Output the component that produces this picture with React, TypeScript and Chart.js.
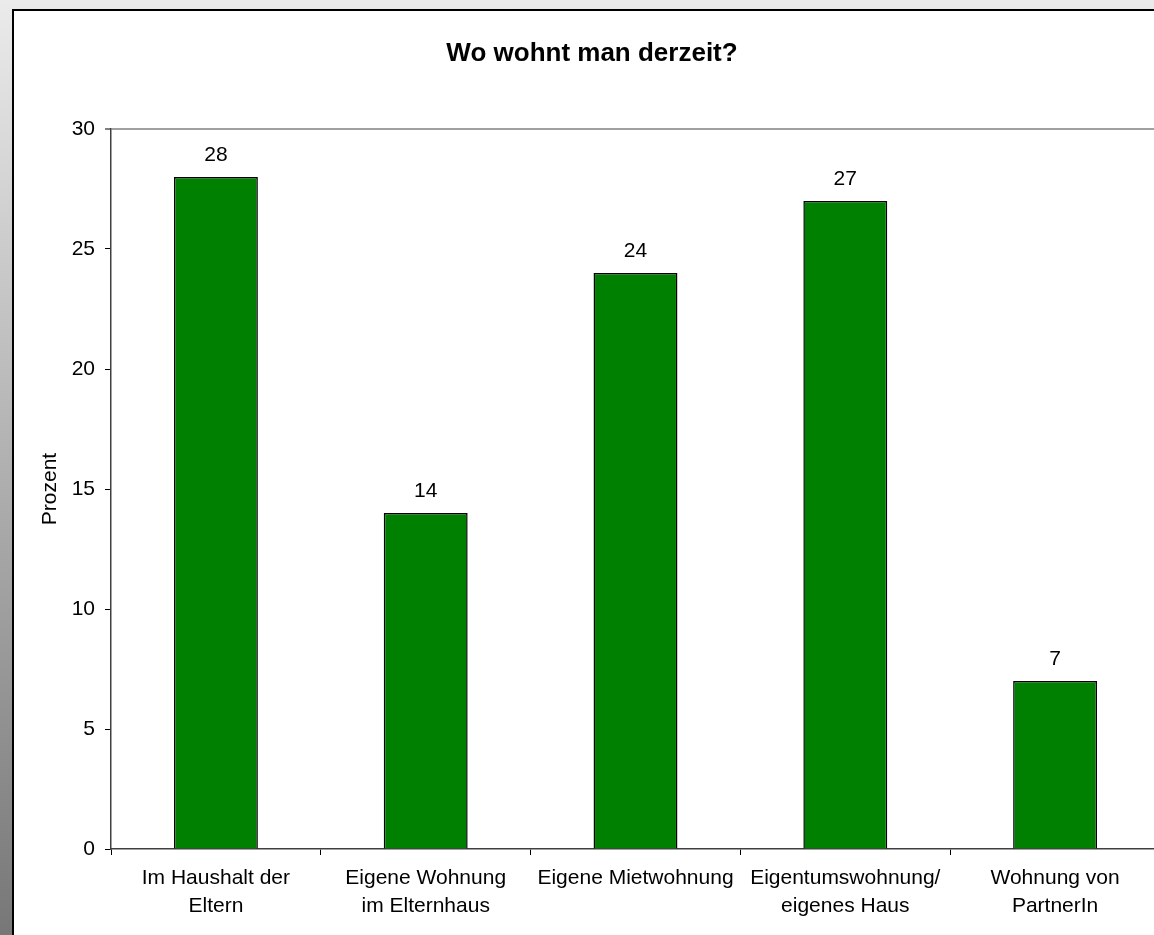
import React, { useEffect, useRef } from "react";
import { Chart, registerables } from "chart.js";

Chart.register(...registerables);

const categories: (string | string[])[] = [
  ["Im Haushalt der", "Eltern"],
  ["Eigene Wohnung", "im Elternhaus"],
  "Eigene Mietwohnung",
  ["Eigentumswohnung/", "eigenes Haus"],
  ["Wohnung von", "PartnerIn"],
];
const values: number[] = [28, 14, 24, 27, 7];
const yTicks: number[] = [0, 5, 10, 15, 20, 25, 30];
const chartTitle = "Wo wohnt man derzeit?";
const yTitle = "Prozent";

const FONT = "'Liberation Sans', Arial, Helvetica, sans-serif";

const dataLabels = {
  id: "dataLabels",
  afterDatasetsDraw(chart: any) {
    const ctx = chart.ctx;
    const meta = chart.getDatasetMeta(0);
    ctx.save();
    ctx.font = `21px ${FONT}`;
    ctx.fillStyle = "#000";
    ctx.textAlign = "center";
    ctx.textBaseline = "alphabetic";
    meta.data.forEach((bar: any, i: number) => {
      ctx.fillText(String(values[i]), bar.x, bar.y - 16);
    });
    ctx.restore();
  },
};

// Title centred on the white panel (panel spans roughly 12..1172)
const panelTitle = {
  id: "panelTitle",
  afterDraw(chart: any) {
    const ctx = chart.ctx;
    ctx.save();
    ctx.font = `bold 26px ${FONT}`;
    ctx.fillStyle = "#000";
    ctx.textAlign = "center";
    ctx.textBaseline = "alphabetic";
    ctx.fillText(chartTitle, 592, 61);
    ctx.restore();
  },
};

export default function App() {
  const ref = useRef<HTMLCanvasElement>(null);

  useEffect(() => {
    if (!ref.current) return;
    Chart.defaults.font.family = FONT;
    const chart = new Chart(ref.current, {
      type: "bar",
      data: {
        labels: categories,
        datasets: [
          {
            data: values,
            backgroundColor: "#008000",
            borderColor: "#000000",
            borderWidth: 1.5,
            barPercentage: 0.4,
            categoryPercentage: 1.0,
          },
        ],
      },
      options: {
        responsive: false,
        animation: false,
        layout: { padding: { left: 0, right: 10, top: 129, bottom: 0 } },
        plugins: {
          legend: { display: false },
          tooltip: { enabled: false },
          title: { display: false },
        },
        scales: {
          x: {
            afterFit: (scale: any) => {
              scale.height = 86;
            },
            grid: {
              drawOnChartArea: false,
              drawTicks: true,
              tickLength: 6,
              color: "#000",
              tickColor: "#000",
              offset: true,
            },
            border: { display: true, color: "#404040", width: 1.5 },
            ticks: {
              color: "#000",
              font: { size: 21, family: FONT, lineHeight: 1.3 },
              padding: 10,
              maxRotation: 0,
              autoSkip: false,
            },
          },
          y: {
            min: 0,
            max: 30,
            afterFit: (scale: any) => {
              scale.width = 111;
            },
            afterBuildTicks: (scale: any) => {
              scale.ticks = yTicks.map((v) => ({ value: v }));
            },
            grid: {
              color: (c: any) =>
                c.tick && c.tick.value === 30 ? "#a0a0a0" : "rgba(0,0,0,0)",
              lineWidth: (c: any) => (c.tick && c.tick.value === 30 ? 2 : 1),
              tickColor: "#000",
              tickWidth: 1,
              tickLength: 6,
              drawTicks: true,
            },
            border: { display: true, color: "#404040", width: 1.5 },
            ticks: {
              color: "#000",
              font: { size: 21, family: FONT },
              padding: 10,
            },
            title: {
              display: true,
              text: yTitle,
              color: "#000",
              font: { size: 21, family: FONT, lineHeight: 1.2 },
              padding: { top: 38, bottom: 0 },
            },
          },
        },
      },
      plugins: [dataLabels, panelTitle],
    });
    return () => chart.destroy();
  }, []);

  return (
    <div
      style={{
        position: "fixed",
        left: 0,
        top: 0,
        width: "100vw",
        height: "100vh",
        overflow: "hidden",
        background: "linear-gradient(to bottom, #ebebeb 0%, #b0b0b0 50%, #777777 100%)",
      }}
    >
      <div
        style={{
          position: "absolute",
          left: 12,
          top: 9,
          width: 1200,
          height: 1000,
          boxSizing: "border-box",
          borderLeft: "2px solid #000",
          borderTop: "2px solid #000",
          background: "#fff",
        }}
      />
      <canvas
        ref={ref}
        width={1170}
        height={935}
        style={{ position: "absolute", left: 0, top: 0, width: 1170, height: 935 }}
      />
    </div>
  );
}
